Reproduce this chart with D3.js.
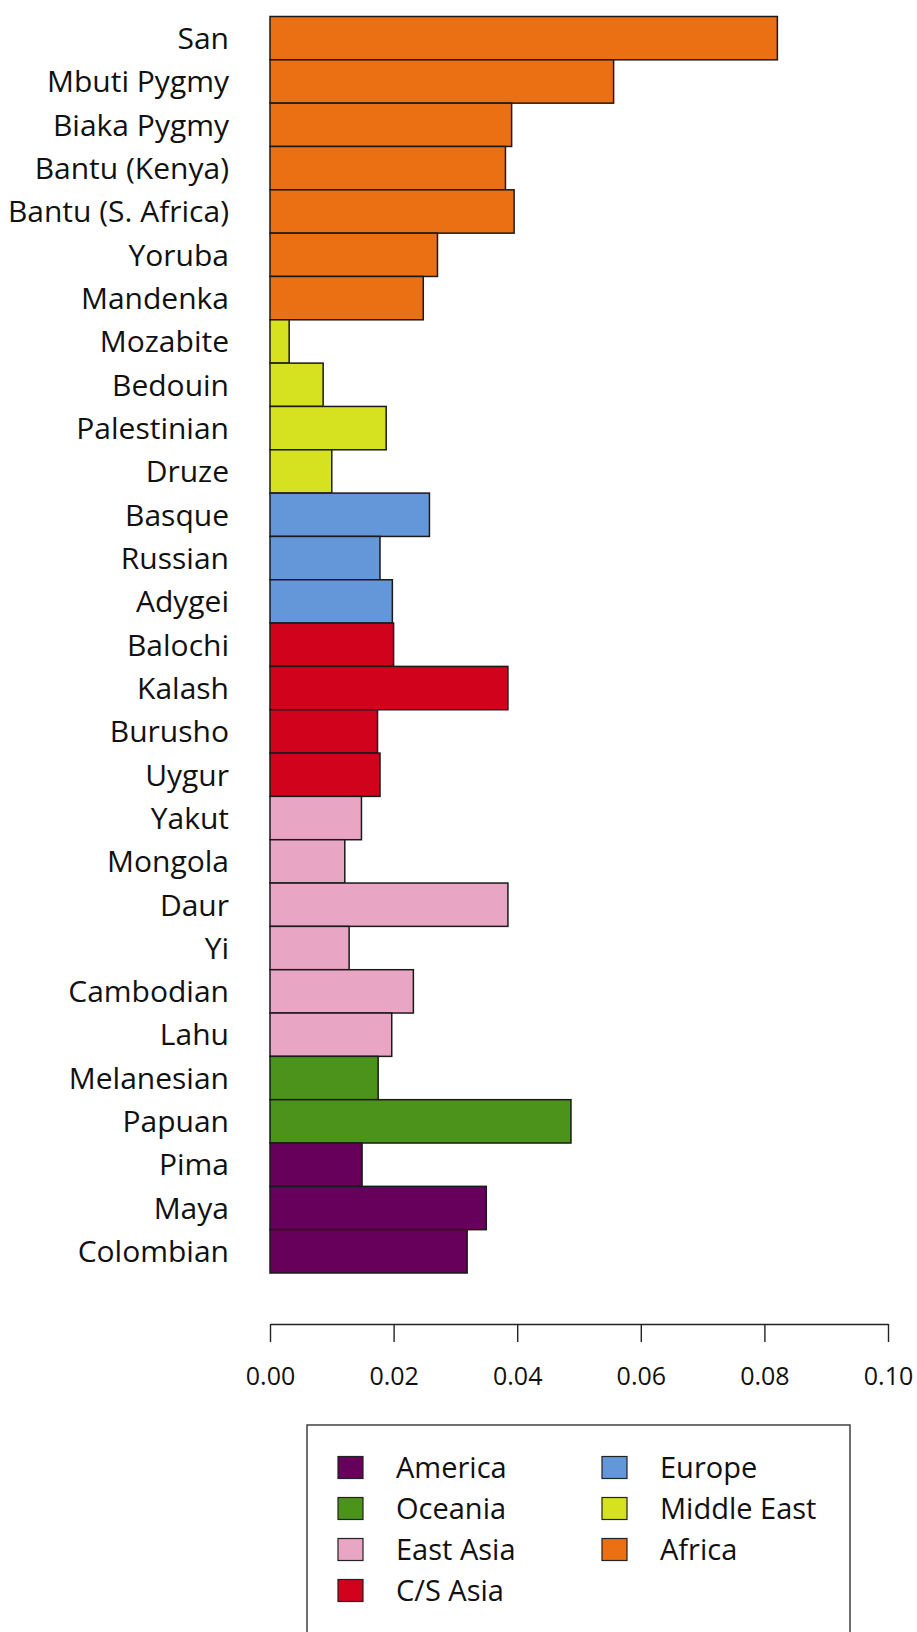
<!DOCTYPE html>
<html lang="en">
<head>
<meta charset="utf-8">
<title>Population bars</title>
<script src="https://d3js.org/d3.v7.min.js"></script>
<style>
  body { margin: 0; background: #fff; }
  text { font-family: "Open Sans", sans-serif; fill: #111; }
</style>
</head>
<body>
<script>
// data
var populations = ["San", "Mbuti Pygmy", "Biaka Pygmy", "Bantu (Kenya)", "Bantu (S. Africa)", "Yoruba", "Mandenka",
  "Mozabite", "Bedouin", "Palestinian", "Druze", "Basque", "Russian", "Adygei",
  "Balochi", "Kalash", "Burusho", "Uygur", "Yakut", "Mongola", "Daur", "Yi", "Cambodian", "Lahu",
  "Melanesian", "Papuan", "Pima", "Maya", "Colombian"];
var values = [0.0821, 0.0556, 0.0391, 0.0381, 0.0395, 0.0271, 0.0248,
  0.0031, 0.0086, 0.0188, 0.0100, 0.0258, 0.0178, 0.0198,
  0.0200, 0.0385, 0.0174, 0.0178, 0.0148, 0.0121, 0.0385, 0.0128, 0.0232, 0.0197,
  0.0175, 0.0487, 0.0149, 0.0350, 0.0319];
var regions = ["Africa", "Africa", "Africa", "Africa", "Africa", "Africa", "Africa",
  "Middle East", "Middle East", "Middle East", "Middle East", "Europe", "Europe", "Europe",
  "C/S Asia", "C/S Asia", "C/S Asia", "C/S Asia", "East Asia", "East Asia", "East Asia", "East Asia", "East Asia", "East Asia",
  "Oceania", "Oceania", "America", "America", "America"];
var xTicks = [0, 0.02, 0.04, 0.06, 0.08, 0.10];
var legendRegions = ["America", "Oceania", "East Asia", "C/S Asia", "Europe", "Middle East", "Africa"];
var regionColors = ["#66005a", "#4b931a", "#e8a6c4", "#d1021c", "#6497d9", "#d6e21f", "#eb7014"];

var w = 917, h = 1632;

var svg = d3.select("body").append("svg")
  .attr("width", w)
  .attr("height", h);

var color = d3.scaleOrdinal().domain(legendRegions).range(regionColors);

var x = d3.scaleLinear().domain([0, 0.1]).range([270, 888]);
var y = d3.scaleBand().domain(populations).range([16.5, 1273]).padding(0);

var rows = populations.map(function (p, i) {
  return { name: p, value: values[i], region: regions[i] };
});

// bars
svg.selectAll("rect.bar")
  .data(rows)
  .enter()
  .append("rect")
  .attr("class", "bar")
  .attr("x", x(0))
  .attr("y", function (d) { return y(d.name); })
  .attr("width", function (d) { return x(d.value) - x(0); })
  .attr("height", y.bandwidth())
  .attr("fill", function (d) { return color(d.region); })
  .attr("stroke", "#1a1a1a")
  .attr("stroke-width", 1.5);

// population labels
svg.selectAll("text.lab")
  .data(rows)
  .enter()
  .append("text")
  .attr("class", "lab")
  .attr("x", 229)
  .attr("y", function (d) { return y(d.name) + y.bandwidth() / 2; })
  .attr("dy", "0.36em")
  .attr("text-anchor", "end")
  .style("font-size", "30px")
  .text(function (d) { return d.name; });

// x axis
var axis = svg.append("g")
  .attr("transform", "translate(0,1324)")
  .call(d3.axisBottom(x)
    .tickValues(xTicks)
    .tickFormat(d3.format(".2f"))
    .tickSize(18)
    .tickSizeOuter(0)
    .tickPadding(25));
axis.selectAll("path, line").attr("stroke", "#222").attr("stroke-width", 1.4);
axis.selectAll("text")
  .style("font-size", "25px")
  .style("font-family", "'Open Sans', sans-serif")
  .attr("fill", "#111");

// legend
var legend = svg.append("g");
legend.append("rect")
  .attr("x", 307)
  .attr("y", 1425)
  .attr("width", 543)
  .attr("height", 260)
  .attr("fill", "none")
  .attr("stroke", "#333")
  .attr("stroke-width", 1.4);

var items = legend.selectAll("g.item")
  .data(legendRegions)
  .enter()
  .append("g")
  .attr("class", "item")
  .attr("transform", function (d, i) {
    var col = i < 4 ? 0 : 1;
    var row = i < 4 ? i : i - 4;
    return "translate(" + (col === 0 ? 338 : 602) + "," + (1467.5 + row * 41) + ")";
  });

items.append("rect")
  .attr("x", 0)
  .attr("y", -11)
  .attr("width", 25)
  .attr("height", 22)
  .attr("fill", function (d) { return color(d); })
  .attr("stroke", "#222")
  .attr("stroke-width", 1.2);

items.append("text")
  .attr("x", 58)
  .attr("y", 0)
  .attr("dy", "0.36em")
  .style("font-size", "29px")
  .text(function (d) { return d; });
</script>
</body>
</html>
